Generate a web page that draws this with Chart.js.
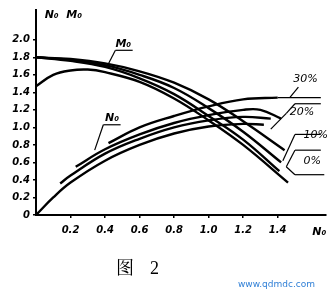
<!DOCTYPE html>
<html>
<head>
<meta charset="utf-8">
<script src="https://cdn.jsdelivr.net/npm/chart.js@4/dist/chart.umd.min.js"></script>
<style>
  html, body { margin: 0; padding: 0; background: #fff; }
  #wrap { width: 334px; height: 292px; }
</style>
</head>
<body>
<div id="wrap"><canvas id="c" width="334" height="292"></canvas></div>
<script>
// tick labels
var xTicks = [0.2, 0.4, 0.6, 0.8, 1.0, 1.2, 1.4];
var yTicks = [0, 0.2, 0.4, 0.6, 0.8, 1.0, 1.2, 1.4, 1.6, 1.8, 2.0];

// N0 curves (0%, 10%, 20%, 30%)
var n0X_0  = [0, 0.1, 0.2, 0.4, 0.6, 0.8, 1.0, 1.2, 1.32];
var n0Y_0  = [0, 0.2, 0.37, 0.62, 0.8, 0.93, 1.01, 1.04, 1.03];
var n0X_10 = [0.14, 0.2, 0.4, 0.6, 0.8, 1.0, 1.2, 1.36];
var n0Y_10 = [0.36, 0.45, 0.7, 0.87, 1.0, 1.08, 1.12, 1.1];
var n0X_20 = [0.23, 0.4, 0.6, 0.8, 1.0, 1.2, 1.3, 1.42];
var n0Y_20 = [0.55, 0.75, 0.92, 1.05, 1.14, 1.2, 1.2, 1.1];
var n0X_30 = [0.42, 0.6, 0.8, 1.0, 1.2, 1.4];
var n0Y_30 = [0.82, 1.0, 1.13, 1.24, 1.32, 1.34];

// M0 curves
var m0X_30 = [0, 0.2, 0.4, 0.6, 0.8, 1.0, 1.2, 1.44];
var m0Y_30 = [1.8, 1.78, 1.73, 1.64, 1.51, 1.32, 1.07, 0.74];
var m0X_20 = [0, 0.2, 0.4, 0.6, 0.8, 1.0, 1.2, 1.42];
var m0Y_20 = [1.8, 1.77, 1.71, 1.6, 1.45, 1.22, 0.95, 0.6];
var m0X_10 = [0, 0.2, 0.4, 0.6, 0.8, 1.0, 1.2, 1.41];
var m0Y_10 = [1.8, 1.76, 1.69, 1.56, 1.38, 1.13, 0.86, 0.5];
var m0X_0  = [0, 0.1, 0.2, 0.3, 0.4, 0.6, 0.8, 1.0, 1.2, 1.46];
var m0Y_0  = [1.47, 1.6, 1.65, 1.66, 1.63, 1.52, 1.33, 1.08, 0.8, 0.37];

function pts(xs, ys) {
  return xs.map(function (x, i) { return { x: x, y: ys[i] }; });
}
function ds(label, xs, ys) {
  return {
    label: label,
    data: pts(xs, ys),
    borderColor: '#000',
    borderWidth: 2.4,
    pointRadius: 0,
    tension: 0.4,
    fill: false
  };
}

var datasets = [
  ds('N0 0%', n0X_0, n0Y_0),
  ds('N0 10%', n0X_10, n0Y_10),
  ds('N0 20%', n0X_20, n0Y_20),
  ds('N0 30%', n0X_30, n0Y_30),
  ds('M0 30%', m0X_30, m0Y_30),
  ds('M0 20%', m0X_20, m0Y_20),
  ds('M0 10%', m0X_10, m0Y_10),
  ds('M0 0%', m0X_0, m0Y_0)
];

// labels and leader lines placed in data units
var notes = {
  id: 'notes',
  afterDraw: function (chart) {
    var c = chart.ctx, xs = chart.scales.x, ys = chart.scales.y;
    function px(v) { return xs.getPixelForValue(v); }
    function py(v) { return ys.getPixelForValue(v); }
    function line(x1, y1, x2, y2) {
      c.beginPath(); c.moveTo(px(x1), py(y1)); c.lineTo(px(x2), py(y2)); c.stroke();
    }
    c.save();
    c.strokeStyle = '#000';
    c.fillStyle = '#000';
    c.lineWidth = 1.2;
    c.font = 'italic bold 11px "DejaVu Sans"';
    c.textBaseline = 'alphabetic';

    // M0 label
    c.fillText('M\u2080', px(0.46), py(1.92));
    line(0.46, 1.88, 0.56, 1.88);
    line(0.46, 1.88, 0.41, 1.69);
    // N0 label
    c.fillText('N\u2080', px(0.40), py(1.07));
    line(0.39, 1.03, 0.49, 1.03);
    line(0.39, 1.03, 0.34, 0.74);

    // percentage labels with leaders
    c.font = 'italic 11px "DejaVu Sans"';
    c.fillText('30%', px(1.49), py(1.52));
    line(1.40, 1.34, 1.65, 1.34);
    line(1.47, 1.34, 1.52, 1.46);

    c.fillText('20%', px(1.47), py(1.14));
    line(1.45, 1.16, 1.50, 1.27);
    line(1.50, 1.27, 1.65, 1.27);
    line(1.45, 1.16, 1.36, 0.98);

    c.fillText('10%', px(1.55), py(0.88));
    line(1.50, 0.92, 1.65, 0.92);
    line(1.50, 0.92, 1.43, 0.62);

    c.fillText('0%', px(1.55), py(0.58));
    line(1.50, 0.74, 1.65, 0.74);
    line(1.50, 0.74, 1.45, 0.55);
    line(1.45, 0.55, 1.50, 0.46);
    line(1.50, 0.46, 1.67, 0.46);

    // axis titles
    c.font = 'italic bold 11px "DejaVu Sans"';
    c.fillText('N\u2080  M\u2080', px(0.05), py(2.34) + 8);
    c.fillText('N\u2080', px(1.6), chart.chartArea.bottom + 20);

    // caption
    c.font = '18px "Noto Serif CJK SC", "Noto Sans CJK SC", serif';
    c.fillText('\u56fe', 116, 274);
    c.font = '18px "Liberation Serif", serif';
    c.fillText('2', 150, 274);
    c.fillStyle = '#2f7fd6';
    c.font = '9px "DejaVu Sans"';
    c.fillText('www.qdmdc.com', 238, 287);
    c.restore();
  }
};

var tickFont = { family: 'DejaVu Sans', size: 10, style: 'italic', weight: 'bold' };

new Chart(document.getElementById('c').getContext('2d'), {
  type: 'line',
  data: { datasets: datasets },
  options: {
    responsive: false,
    animation: false,
    layout: { padding: { top: 10, right: 8, bottom: 55, left: 0 } },
    plugins: { legend: { display: false }, tooltip: { enabled: false } },
    scales: {
      x: {
        type: 'linear',
        min: 0,
        max: 1.68,
        afterBuildTicks: function (s) { s.ticks = xTicks.map(function (v) { return { value: v }; }); },
        afterFit: function (s) { s.height = 22; },
        ticks: {
          color: '#000',
          font: tickFont,
          padding: 6,
          autoSkip: false,
          maxRotation: 0,
          callback: function (v) { return v.toFixed(1); }
        },
        grid: { display: true, drawOnChartArea: false, tickLength: 3, color: '#000', lineWidth: 1.5 },
        border: { display: true, color: '#000', width: 2 }
      },
      y: {
        type: 'linear',
        min: 0,
        max: 2.34,
        afterBuildTicks: function (s) { s.ticks = yTicks.map(function (v) { return { value: v }; }); },
        afterFit: function (s) { s.width = 36; },
        ticks: {
          color: '#000',
          font: tickFont,
          padding: 3,
          autoSkip: false,
          callback: function (v) { return v === 0 ? '0' : v.toFixed(1); }
        },
        grid: { display: true, drawOnChartArea: false, tickLength: 3, color: '#000', lineWidth: 1.5 },
        border: { display: true, color: '#000', width: 2 }
      }
    }
  },
  plugins: [notes]
});
</script>
</body>
</html>
